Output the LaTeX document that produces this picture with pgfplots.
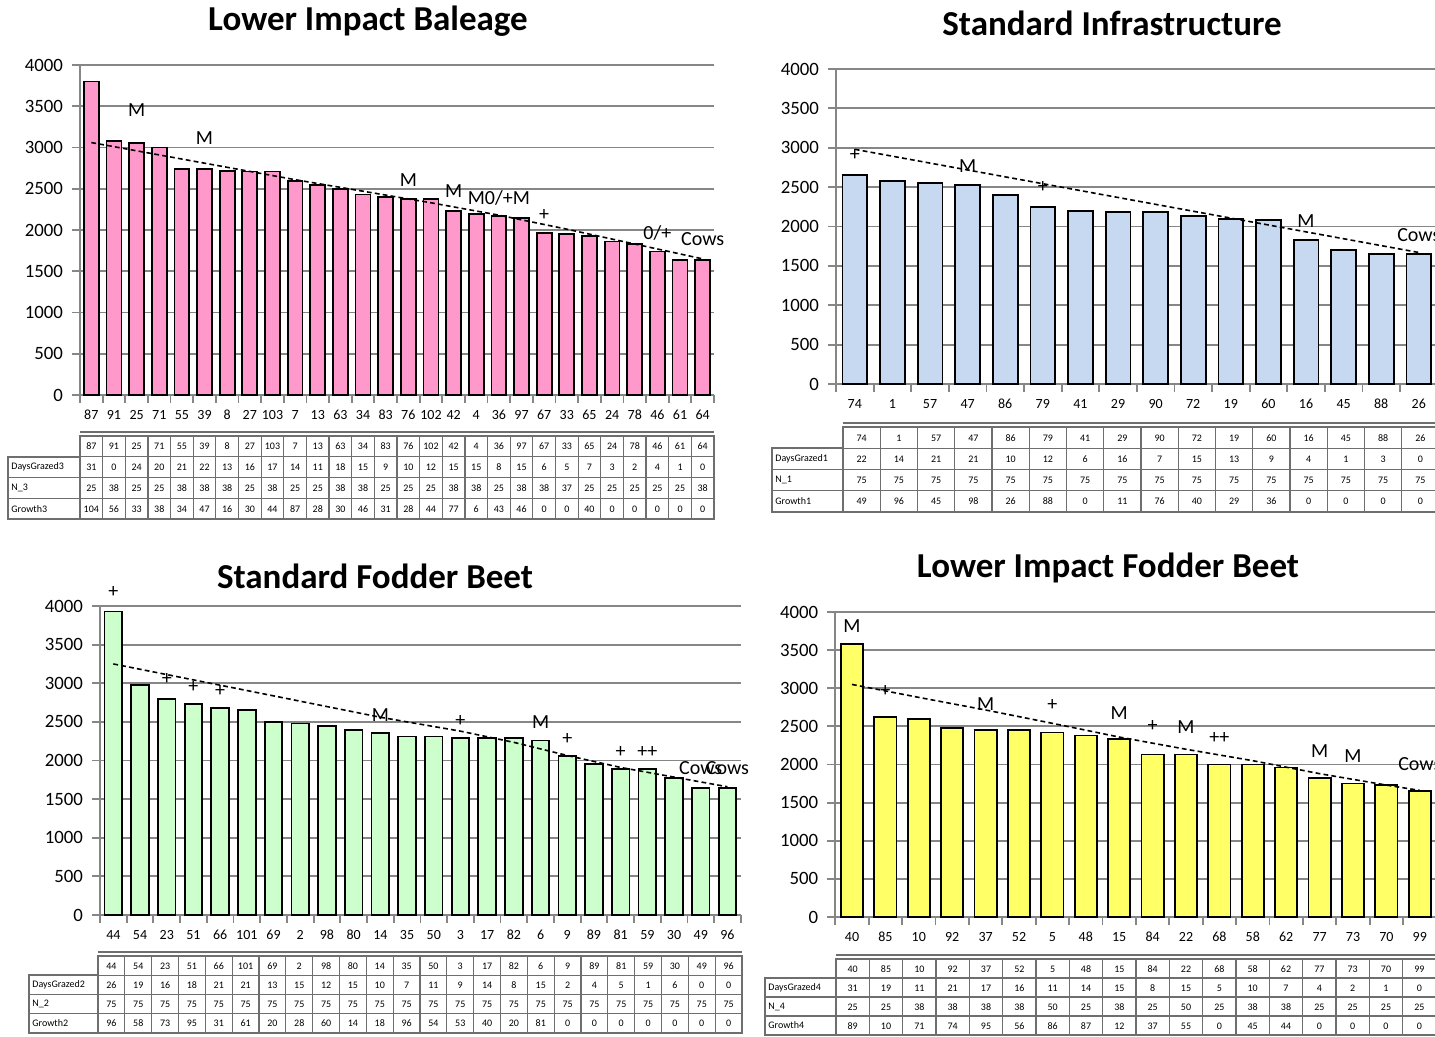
\documentclass[border=0pt]{standalone}
\usepackage{pgfplots}
\pgfplotsset{compat=1.18}
\usepackage{pgfplotstable}
\usepackage{fontspec}
\setmainfont{Carlito}

\definecolor{pinkbar}{RGB}{255,153,204}
\definecolor{bluebar}{RGB}{198,217,241}
\definecolor{greenbar}{RGB}{204,255,204}
\definecolor{yellowbar}{RGB}{255,255,102}
\definecolor{axgray}{RGB}{134,134,134}
\definecolor{tabgray}{RGB}{110,110,110}

\newcommand\titlefont{\fontsize{17.5pt}{20pt}\selectfont\bfseries}
\newcommand\yfont{\fontsize{9.4pt}{11pt}\selectfont}
\newcommand\xfont{\fontsize{7pt}{8pt}\selectfont}
\newcommand\notefont{\fontsize{10pt}{12pt}\selectfont}
\newcommand\tabfont{\fontsize{5pt}{6pt}\selectfont}

% ---------- Lower Impact Baleage ----------
\pgfplotstableread{
idx cat val dg n gr
0 87 3800 31 25 104
1 91 3080 0 38 56
2 25 3050 24 25 33
3 71 3000 20 25 38
4 55 2740 21 38 34
5 39 2740 22 38 47
6 8 2720 13 38 16
7 27 2710 16 25 30
8 103 2710 17 38 44
9 7 2590 14 25 87
10 13 2550 11 25 28
11 63 2500 18 38 30
12 34 2430 15 38 46
13 83 2400 9 25 31
14 76 2380 10 25 28
15 102 2380 12 25 44
16 42 2230 15 38 77
17 4 2190 15 38 6
18 36 2170 8 25 43
19 97 2150 15 38 46
20 67 1960 6 38 0
21 33 1950 5 37 0
22 65 1930 7 25 40
23 24 1860 3 25 0
24 78 1830 2 25 0
25 46 1740 4 25 0
26 61 1640 1 25 0
27 64 1640 0 38 0
}\baleage
\pgfplotstableread{
x y t
2 3455 M
5 3115 M
14 2606 M
16 2473 M
18 2388 M0/+M
20 2182 +
25 1964 0/+
27 1891 Cows
}\baleagenotes

% ---------- Standard Infrastructure ----------
\pgfplotstableread{
idx cat val dg n gr
0 74 2650 22 75 49
1 1 2580 14 75 96
2 57 2550 21 75 45
3 47 2530 21 75 98
4 86 2400 10 75 26
5 79 2250 12 75 88
6 41 2200 6 75 0
7 29 2180 16 75 11
8 90 2180 7 75 76
9 72 2130 15 75 40
10 19 2100 13 75 29
11 60 2080 9 75 36
12 16 1830 4 75 0
13 45 1700 1 75 0
14 88 1650 3 75 0
15 26 1650 0 75 0
}\infra
\pgfplotstableread{
x y t
0 2905 +
3 2770 M
5 2505 +
12 2063 M
15 1895 Cows
}\infranotes

% ---------- Standard Fodder Beet ----------
\pgfplotstableread{
idx cat val dg n gr
0 44 3930 26 75 96
1 54 2980 19 75 58
2 23 2800 16 75 73
3 51 2730 18 75 95
4 66 2680 21 75 31
5 101 2650 21 75 61
6 69 2500 13 75 20
7 2 2480 15 75 28
8 98 2450 12 75 60
9 80 2400 15 75 14
10 14 2360 10 75 18
11 35 2310 7 75 96
12 50 2310 11 75 54
13 3 2290 9 75 53
14 17 2290 14 75 40
15 82 2290 8 75 20
16 6 2260 15 75 81
17 9 2060 2 75 0
18 89 1950 4 75 0
19 81 1890 5 75 0
20 59 1890 1 75 0
21 30 1770 6 75 0
22 49 1640 0 75 0
23 96 1640 0 75 0
}\fodder
\pgfplotstableread{
x y t
0 4180 +
2 3050 +
3 2957 +
4 2900 +
10 2586 M
13 2513 +
16 2491 M
17 2284 +
19 2112 +
20 2112 ++
22 1903 Cows
23 1903 Cows
}\foddernotes

% ---------- Lower Impact Fodder Beet ----------
\pgfplotstableread{
idx cat val dg n gr
0 40 3580 31 25 89
1 85 2620 19 25 10
2 10 2600 11 38 71
3 92 2480 21 38 74
4 37 2450 17 38 95
5 52 2450 16 38 56
6 5 2420 11 50 86
7 48 2380 14 25 87
8 15 2330 15 38 12
9 84 2130 8 25 37
10 22 2130 15 50 55
11 68 2000 5 25 0
12 58 2000 10 38 45
13 62 1960 7 38 44
14 77 1820 4 25 0
15 73 1750 2 25 0
16 70 1730 1 25 0
17 99 1650 0 25 0
}\lowfodder
\pgfplotstableread{
x y t
0 3816 M
1 2966 +
4 2791 M
6 2774 +
8 2674 M
9 2500 +
10 2490 M
11 2347 ++
14 2172 M
15 2115 M
17 2006 Cows
}\lowfoddernotes

\pgfplotsset{
  barpanel/.style={
    scale only axis, anchor=south west, clip=false,
    ymin=0, ymax=4000, ytick={0,500,...,4000}, minor ytick={0,500,...,4000},
    xmin=-0.5,
    axis x line*=bottom, axis y line*=left,
    axis line style={axgray, line width=1pt, -},
    ymajorgrids, grid style={axgray, line width=0.9pt},
    major tick length=0pt, minor tick length=4pt, tick align=outside,
    tick style={axgray, line width=0.9pt},
    scaled y ticks=false,
    /pgf/number format/1000 sep={},
    /pgf/number format/assume math mode=true,
    yticklabel style={font=\yfont, xshift=-5pt},
    xticklabel style={font=\xfont, yshift=-4pt},
  },
  bars/.style={ybar, bar width=0.66, fill=#1, draw=black, line width=0.9pt},
  trend/.style={black, line width=0.8pt, dash pattern=on 2.4pt off 1.6pt},
  notes/.style={only marks, mark=*, mark size=0pt, mark options={draw=none, fill=none},
    nodes near coords, point meta=explicit symbolic, nodes near coords align={center},
    every node near coord/.append style={font=\notefont, anchor=center, inner sep=0pt}},
  tabpanel/.style={
    scale only axis, anchor=north west, clip=false,
    ymin=0, ymax=4, xmin=-0.5,
    ytick={1,2,3}, xmajorgrids, ymajorgrids,
    xticklabels={}, yticklabels={},
    major tick length=0pt,
    axis line style={tabgray, line width=1pt},
    grid style={tabgray, line width=0.6pt},
  },
  tabrow/.style={only marks, mark=*, mark size=0pt, mark options={draw=none, fill=none},
    nodes near coords, point meta=explicit symbolic, nodes near coords align={center},
    every node near coord/.append style={font=\tabfont, anchor=center, inner sep=0pt,
      text height=3.5pt, text depth=0pt}},
}

% row-label column to the left of a data table: #1 width, #2..#4 row names
\newcommand\rowlabels[4]{%
  \draw[tabgray, line width=1pt] ([xshift=-#1]rel axis cs:0,0) rectangle (rel axis cs:0,0.75);
  \draw[tabgray, line width=0.6pt] ([xshift=-#1]rel axis cs:0,0.25) -- (rel axis cs:0,0.25)
    ([xshift=-#1]rel axis cs:0,0.5) -- (rel axis cs:0,0.5);
  \node[anchor=west, font=\tabfont, inner sep=0pt] at ([xshift=-#1+1.5pt]rel axis cs:0,0.625) {#2};
  \node[anchor=west, font=\tabfont, inner sep=0pt] at ([xshift=-#1+1.5pt]rel axis cs:0,0.375) {#3};
  \node[anchor=west, font=\tabfont, inner sep=0pt] at ([xshift=-#1+1.5pt]rel axis cs:0,0.125) {#4};
  % doubled top rule over the data block
  \draw[tabgray, line width=0.6pt] ([yshift=2pt]rel axis cs:0,1) -- ([yshift=2pt]rel axis cs:1,1);
}

\begin{document}
\begin{tikzpicture}
\useasboundingbox (0,0) rectangle (717.5pt,-518.5pt);

% ===== Lower Impact Baleage =====
\node[font=\titlefont] at (184pt,-10.5pt) {Lower Impact Baleage};
\begin{axis}[barpanel, at={(40pt,-197.5pt)}, width=317pt, height=165pt,
  xmax=27.5, xtick={0,...,27}, xticklabels from table={\baleage}{cat},
  minor xtick={-0.5,0.5,...,27.5}]
  \addplot[bars=pinkbar] table[x=idx, y=val] {\baleage};
  \addplot[trend] coordinates {(0,3060) (3,2910) (6,2760) (9,2610) (12,2470) (15,2330) (18,2180) (21,2010) (24,1830) (27,1650)};
  \addplot[notes] table[x=x, y=y, meta=t] {\baleagenotes};
\end{axis}
\begin{axis}[tabpanel, at={(40pt,-218pt)}, width=317pt, height=41.5pt,
  xmax=27.5, xtick={-0.5,0.5,...,27.5}]
  \addplot[tabrow] table[x=idx, y expr=3.5, meta=cat] {\baleage};
  \addplot[tabrow] table[x=idx, y expr=2.5, meta=dg] {\baleage};
  \addplot[tabrow] table[x=idx, y expr=1.5, meta=n] {\baleage};
  \addplot[tabrow] table[x=idx, y expr=0.5, meta=gr] {\baleage};
  \rowlabels{36pt}{DaysGrazed3}{N\_3}{Growth3}
\end{axis}

% ===== Standard Infrastructure =====
\node[font=\titlefont] at (556pt,-11.5pt) {Standard Infrastructure};
\begin{axis}[barpanel, at={(418pt,-192pt)}, width=300.8pt, height=157.5pt,
  xmax=15.5, xtick={0,...,15}, xticklabels from table={\infra}{cat},
  minor xtick={-0.5,0.5,...,15.5}]
  \addplot[bars=bluebar] table[x=idx, y=val] {\infra};
  \addplot[trend] coordinates {(0,2980) (15,1670)};
  \addplot[notes] table[x=x, y=y, meta=t] {\infranotes};
\end{axis}
\begin{axis}[tabpanel, at={(421.5pt,-213.5pt)}, width=298pt, height=42.5pt,
  xmax=15.5, xtick={-0.5,0.5,...,15.5}]
  \addplot[tabrow] table[x=idx, y expr=3.5, meta=cat] {\infra};
  \addplot[tabrow] table[x=idx, y expr=2.5, meta=dg] {\infra};
  \addplot[tabrow] table[x=idx, y expr=1.5, meta=n] {\infra};
  \addplot[tabrow] table[x=idx, y expr=0.5, meta=gr] {\infra};
  \rowlabels{35.5pt}{DaysGrazed1}{N\_1}{Growth1}
\end{axis}

% ===== Standard Fodder Beet =====
\node[font=\titlefont] at (187.5pt,-288pt) {Standard Fodder Beet};
\begin{axis}[barpanel, at={(50pt,-457.5pt)}, width=320.4pt, height=154.5pt,
  xmax=23.5, xtick={0,...,23}, xticklabels from table={\fodder}{cat},
  minor xtick={-0.5,0.5,...,23.5}]
  \addplot[bars=greenbar] table[x=idx, y=val] {\fodder};
  \addplot[trend] coordinates {(0,3250) (4,2975) (10,2560) (13,2380) (15,2235) (17,2065) (19,1910) (23,1660)};
  \addplot[notes] table[x=x, y=y, meta=t] {\foddernotes};
\end{axis}
\begin{axis}[tabpanel, at={(49pt,-478pt)}, width=322pt, height=38.5pt,
  xmax=23.5, xtick={-0.5,0.5,...,23.5}]
  \addplot[tabrow] table[x=idx, y expr=3.5, meta=cat] {\fodder};
  \addplot[tabrow] table[x=idx, y expr=2.5, meta=dg] {\fodder};
  \addplot[tabrow] table[x=idx, y expr=1.5, meta=n] {\fodder};
  \addplot[tabrow] table[x=idx, y expr=0.5, meta=gr] {\fodder};
  \rowlabels{34.5pt}{DaysGrazed2}{N\_2}{Growth2}
\end{axis}

% ===== Lower Impact Fodder Beet =====
\node[font=\titlefont] at (554pt,-284pt) {Lower Impact Fodder Beet};
\begin{axis}[barpanel, at={(417.65pt,-458.5pt)}, width=300.6pt, height=152.5pt,
  xmax=17.5, xtick={0,...,17}, xticklabels from table={\lowfodder}{cat},
  minor xtick={-0.5,0.5,...,17.5}]
  \addplot[bars=yellowbar] table[x=idx, y=val] {\lowfodder};
  \addplot[trend] coordinates {(0,3050) (2,2880) (4,2715) (6,2540) (8,2360) (10,2200) (12,2050) (14,1880) (16,1730) (17,1660)};
  \addplot[notes] table[x=x, y=y, meta=t] {\lowfoddernotes};
\end{axis}
\begin{axis}[tabpanel, at={(418pt,-479.5pt)}, width=300pt, height=38pt,
  xmax=17.5, xtick={-0.5,0.5,...,17.5}]
  \addplot[tabrow] table[x=idx, y expr=3.5, meta=cat] {\lowfodder};
  \addplot[tabrow] table[x=idx, y expr=2.5, meta=dg] {\lowfodder};
  \addplot[tabrow] table[x=idx, y expr=1.5, meta=n] {\lowfodder};
  \addplot[tabrow] table[x=idx, y expr=0.5, meta=gr] {\lowfodder};
  \rowlabels{35.5pt}{DaysGrazed4}{N\_4}{Growth4}
\end{axis}
\end{tikzpicture}
\end{document}
